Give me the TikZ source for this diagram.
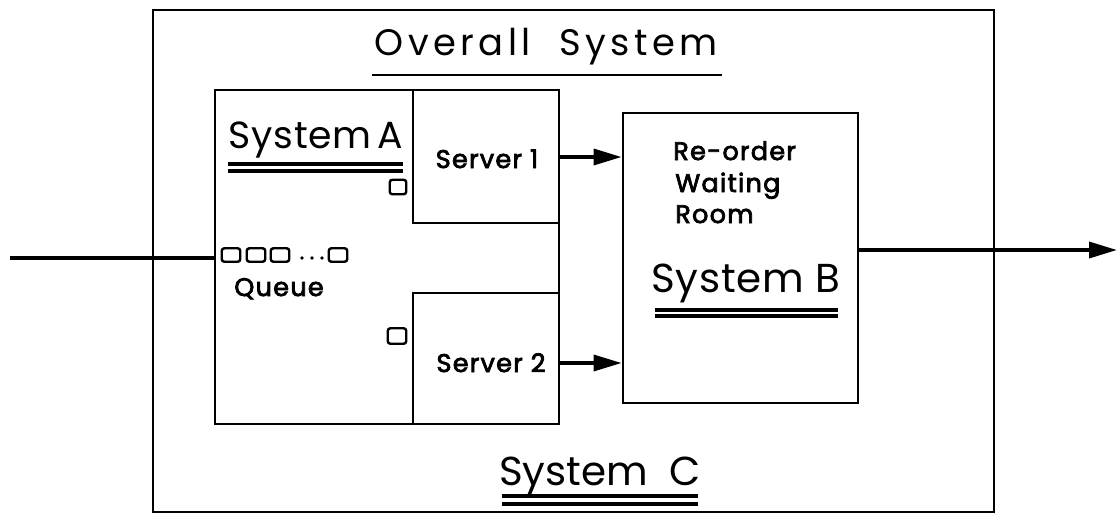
\documentclass[tikz,border=0pt]{standalone}
\usepackage{fontspec}
\setmainfont{Poppins}
\newfontfamily\bigfont[LetterSpace=2]{Poppins}
\newfontfamily\widefont[LetterSpace=12]{Poppins}
\newfontfamily\smallfont[LetterSpace=5,FakeBold=3]{Poppins}
\usetikzlibrary{arrows.meta,fit}
\begin{document}
\begin{tikzpicture}[x=0.02cm,y=-0.02cm,
  box/.style={draw,line width=1.6pt,inner sep=0pt},
  qbox/.style={draw,line width=1.4pt,rounded corners=1.5pt,minimum width=0.37cm,minimum height=0.27cm,inner sep=0pt},
  flow/.style={line width=2pt,-{Triangle[length=0.56cm,width=0.32cm]}},
  big/.style={font=\bigfont\fontsize{23}{26}\selectfont,inner sep=0pt},
  small/.style={font=\smallfont\fontsize{14.5}{17}\selectfont,inner sep=0pt},
  uline/.style={line width=1.6pt},
  dline/.style={line width=1.8pt}]
\useasboundingbox (0,0) rectangle (1120,525);
% boxes
\node[box,fit={(153,10) (994,512)}] (outer) {};
\node[box,fit={(215,90) (559,424)}] (sysA) {};
\node[box,fit={(413,90) (559,223)}] (srv1) {};
\node[box,fit={(413,293) (559,424)}] (srv2) {};
\node[box,fit={(623,113) (858,403)}] (sysB) {};
% labels
\node[font=\widefont\fontsize{21}{24}\selectfont,inner sep=0pt,anchor=base] (overall) at (546,55) {Overall\ \ System};
\draw[uline] (372,75) -- (722,75);
\node[big,font=\bigfont\fontsize{21.5}{24}\selectfont,anchor=base] (labA) at (316,148) {System\,A};
\draw[dline] (228,164) -- (403,164);
\draw[dline] (228,171) -- (403,171);
\node[small,anchor=base] (s1) at (487,168) {Server 1};
\node[small,anchor=base] (s2) at (491,372) {Server 2};
\node[small,anchor=base west] (ro1) at (673,160) {Re-order};
\node[small,anchor=base west] (ro2) at (675,192) {Waiting};
\node[small,anchor=base west] (ro3) at (675,223) {Room};
\node[big,anchor=base] (labB) at (746,292) {System B};
\draw[dline] (655,310) -- (838,310);
\draw[dline] (655,316) -- (838,316);
\node[font=\fontsize{23}{26}\selectfont,inner sep=0pt,anchor=base] (labC) at (600,485) {System\ \ C};
\draw[dline] (502,496) -- (698,496);
\draw[dline] (502,504) -- (698,504);
% queue
\node[qbox] (q1) at (231,255) {};
\node[qbox] (q2) at (256,255) {};
\node[qbox] (q3) at (280,255) {};
\node[qbox] (q4) at (338,255) {};
\fill (302,258) circle (1.9) (312,258) circle (1.9) (322,258) circle (1.9);
\node[small,anchor=base] (queue) at (279,296) {Queue};
\node[qbox,minimum width=0.33cm,minimum height=0.29cm] (w1) at (398,187) {};
\node[qbox,minimum width=0.37cm,minimum height=0.31cm] (w2) at (397,336) {};
% flows
\coordinate (in) at (10,258);
\coordinate (out) at (1117,250);
\coordinate (a1) at (0,157);
\coordinate (a2) at (0,363);
\draw[line width=2pt] (in) -- (sysA.west |- in);
\draw[flow] (srv1.east |- a1) -- (sysB.west |- a1);
\draw[flow] (srv2.east |- a2) -- (sysB.west |- a2);
\draw[flow] (sysB.east |- out) -- (out);
\end{tikzpicture}
\end{document}
